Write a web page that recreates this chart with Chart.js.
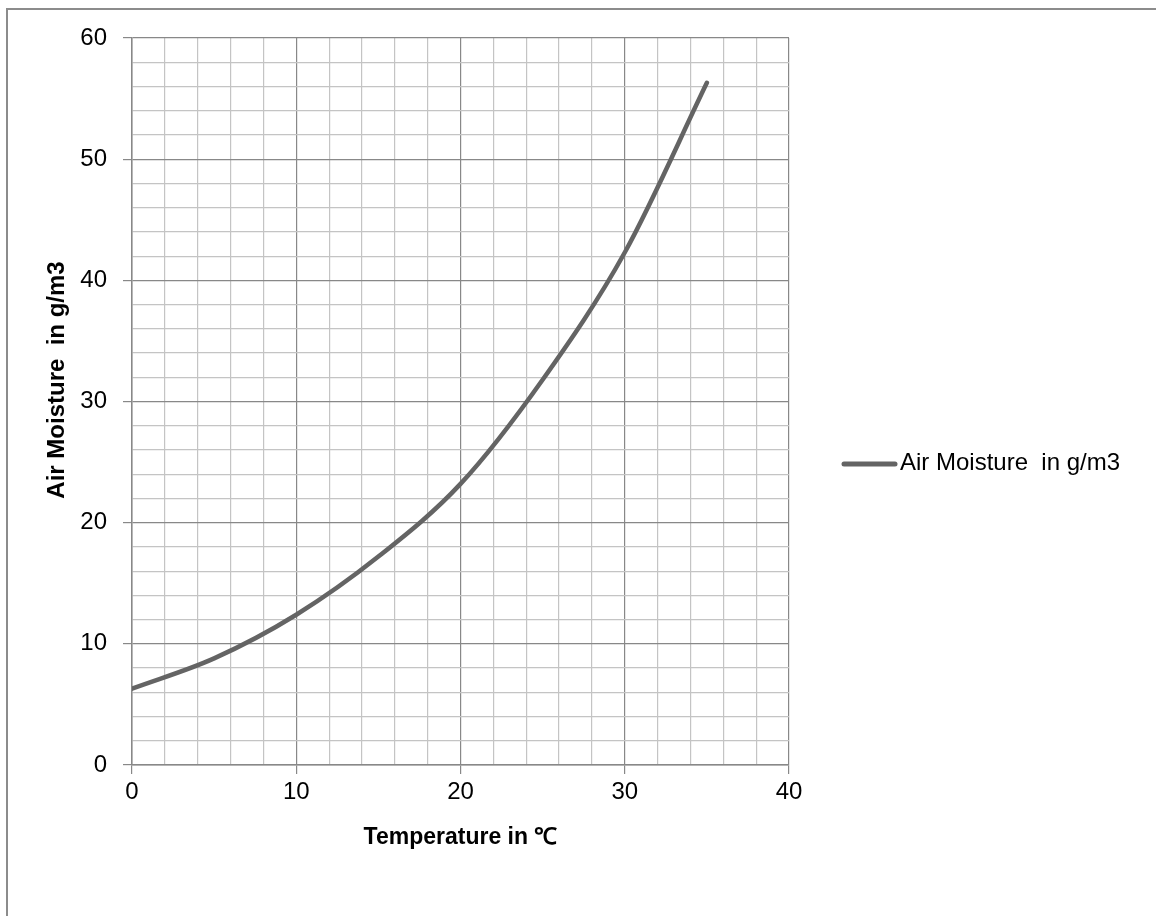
<!DOCTYPE html>
<html>
<head>
<meta charset="utf-8">
<script src="https://cdn.jsdelivr.net/npm/chart.js@4/dist/chart.umd.min.js"></script>
<style>
  html, body { margin: 0; padding: 0; background: #fff; }
  #wrap { width: 1156px; height: 916px; }
</style>
</head>
<body>
<div id="wrap"><canvas id="c" width="1156" height="916"></canvas></div>
<script>
// ---- data ----
const temperatures = [0, 5, 10, 15, 20, 25, 30, 35];
const moisture = [6.3, 8.8, 12.4, 17.2, 23.2, 31.8, 42.3, 56.3];
const seriesLabel = 'Air Moisture  in g/m3';
const xTitle = 'Temperature in \u2103';
const yTitle = 'Air Moisture  in g/m3';
const xRange = [0, 40];
const yRange = [0, 60];

const lineColor = '#646464';
const majorGrid = '#888888';
const minorGrid = '#c4c4c4';

const points = temperatures.map((t, i) => ({ x: t, y: moisture[i] }));

const framePlugin = {
  id: 'frame',
  beforeDraw(chart) {
    const ctx = chart.ctx;
    ctx.save();
    ctx.fillStyle = '#fff';
    ctx.fillRect(0, 0, chart.width, chart.height);
    ctx.strokeStyle = '#8c8c8c';
    ctx.lineWidth = 2;
    ctx.beginPath();
    ctx.moveTo(7, chart.height);
    ctx.lineTo(7, 9);
    ctx.lineTo(chart.width, 9);
    ctx.stroke();
    ctx.restore();
  }
};

const extrasPlugin = {
  id: 'extras',
  afterDraw(chart) {
    const ctx = chart.ctx;
    ctx.save();
    // y axis title
    ctx.translate(57, 380);
    ctx.rotate(-Math.PI / 2);
    ctx.fillStyle = '#000';
    ctx.font = 'bold 24px "Liberation Sans Narrow", "Liberation Sans", sans-serif';
    ctx.textAlign = 'center';
    ctx.textBaseline = 'middle';
    ctx.fillText(yTitle, 0, 0);
    ctx.restore();

    // legend
    const ds = chart.data.datasets[0];
    ctx.save();
    ctx.strokeStyle = ds.borderColor;
    ctx.lineWidth = 5;
    ctx.lineCap = 'round';
    ctx.beginPath();
    ctx.moveTo(844, 464);
    ctx.lineTo(895, 464);
    ctx.stroke();
    ctx.fillStyle = '#000';
    ctx.font = '24px "Liberation Sans", sans-serif';
    ctx.textAlign = 'left';
    ctx.textBaseline = 'middle';
    ctx.fillText(ds.label, 900, 463);
    ctx.restore();
  }
};

const gridColor = (ctx) => (ctx.tick && ctx.tick.value % 10 === 0) ? majorGrid : minorGrid;
const tickColor = (ctx) => (ctx.tick && ctx.tick.value % 10 === 0) ? majorGrid : 'rgba(0,0,0,0)';
const tickLabel = (v) => (v % 10 === 0 ? String(v) : '');

new Chart(document.getElementById('c'), {
  type: 'line',
  data: {
    datasets: [{
      label: seriesLabel,
      data: points,
      borderColor: lineColor,
      borderWidth: 4.5,
      borderCapStyle: 'round',
      pointRadius: 0,
      cubicInterpolationMode: 'monotone',
      fill: false
    }]
  },
  options: {
    responsive: false,
    animation: false,
    layout: { padding: { left: 0, top: 38, right: 367, bottom: 0 } },
    plugins: { legend: { display: false }, tooltip: { enabled: false } },
    scales: {
      x: {
        type: 'linear',
        min: xRange[0], max: xRange[1],
        ticks: { stepSize: 2, autoSkip: false, maxRotation: 0, callback: tickLabel,
                 color: '#000', padding: 4, font: { family: '"Liberation Sans", sans-serif', size: 24 } },
        grid: { color: gridColor, tickColor: tickColor, lineWidth: 1.2, tickLength: 9 },
        border: { color: majorGrid, width: 1.5 },
        title: { display: true, text: xTitle, color: '#000',
                 font: { family: '"Liberation Sans", sans-serif', size: 23, weight: 'bold' },
                 padding: { top: 0, bottom: 65 } },
        afterFit(scale) { scale.height = 151; }
      },
      y: {
        type: 'linear',
        min: yRange[0], max: yRange[1],
        ticks: { stepSize: 2, autoSkip: false, callback: tickLabel,
                 color: '#000', padding: 16, font: { family: '"Liberation Sans", sans-serif', size: 24 } },
        grid: { color: gridColor, tickColor: tickColor, lineWidth: 1.2, tickLength: 9 },
        border: { color: majorGrid, width: 1.5 },
        afterFit(scale) { scale.width = 132; }
      }
    }
  },
  plugins: [framePlugin, extrasPlugin]
});
</script>
</body>
</html>
